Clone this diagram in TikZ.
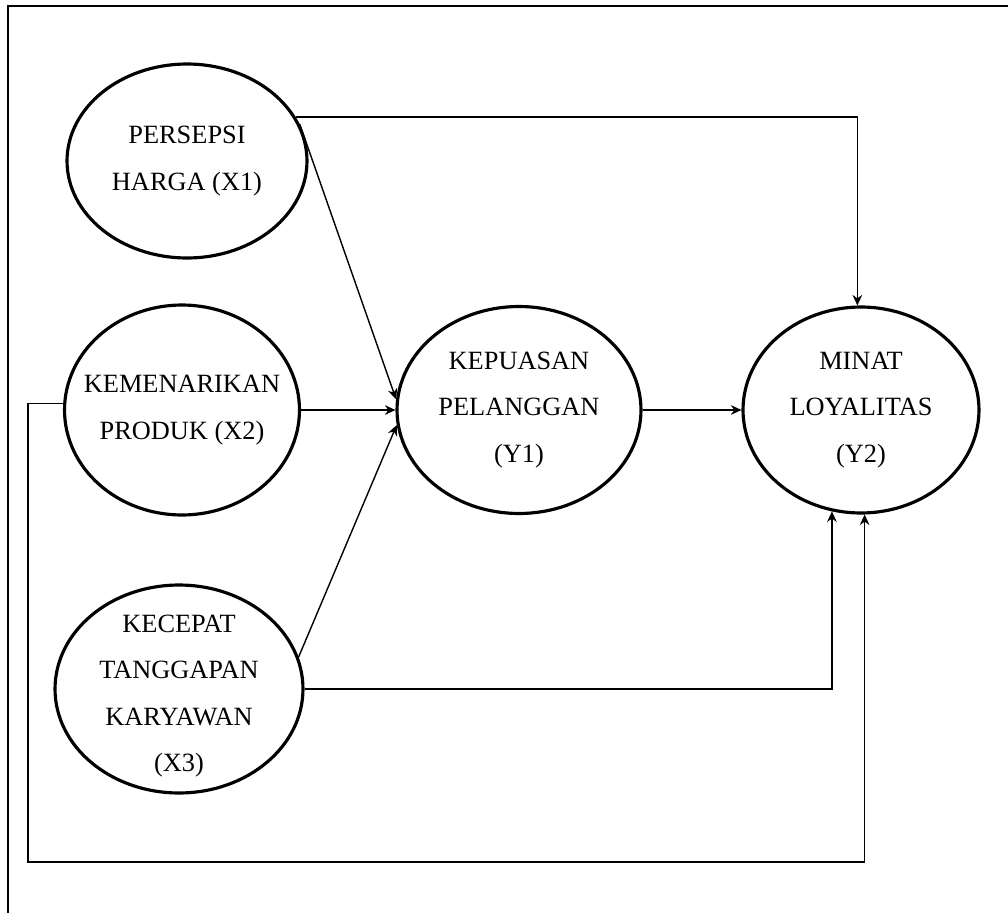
\documentclass[tikz,border=0pt]{standalone}
\usepackage{fontspec}
\setmainfont{Liberation Serif}
\usetikzlibrary{shapes.geometric, arrows.meta}

\begin{document}
\begin{tikzpicture}[x=0.02cm, y=-0.02cm,
    var/.style={draw, ellipse, line width=1.8pt, inner sep=0pt},
    txt/.style={align=center, font=\fontsize{15}{26.5}\selectfont},
    link/.style={line width=0.8pt, -{Stealth[length=6pt, width=5.5pt]}}]
  \useasboundingbox (0,0) rectangle (1008,913);
  \draw[line width=1pt] (8,913) |- (1008,6);
  % exogenous variables on the left
  \node[var, minimum width=4.8cm, minimum height=3.88cm,
    label={[txt]center:PERSEPSI\\HARGA (X1)}] (x1) at (187,161) {};
  \node[var, minimum width=4.7cm, minimum height=4.2cm,
    label={[txt]center:KEMENARIKAN\\PRODUK (X2)}] (x2) at (182,410) {};
  \node[var, minimum width=4.96cm, minimum height=4.16cm,
    label={[txt, yshift=-0.14cm]center:KECEPAT\\TANGGAPAN\\KARYAWAN\\(X3)}] (x3) at (179,689) {};
  % mediator and outcome
  \node[var, minimum width=4.88cm, minimum height=4.14cm,
    label={[txt]center:KEPUASAN\\PELANGGAN\\(Y1)}] (y1) at (519,410) {};
  \node[var, minimum width=4.72cm, minimum height=4.12cm,
    label={[txt]center:MINAT\\LOYALITAS\\(Y2)}] (y2) at (861,410) {};
  \coordinate (bend) at (28,862);
  % paths into Y1
  \draw[link] (x1.18) -- (y1.175);
  \draw[link] (x2.east) -- (y1.west);
  \draw[link] (x3.15) -- (y1.187);
  % paths into Y2
  \draw[link] (y1.east) -- (y2.west);
  \draw[link] (x1.22) -| (y2.92);
  \draw[link] (x3.east) -| (y2.254);
  \draw[link] (x2.177) -| (bend) -| (y2.272);
\end{tikzpicture}
\end{document}
